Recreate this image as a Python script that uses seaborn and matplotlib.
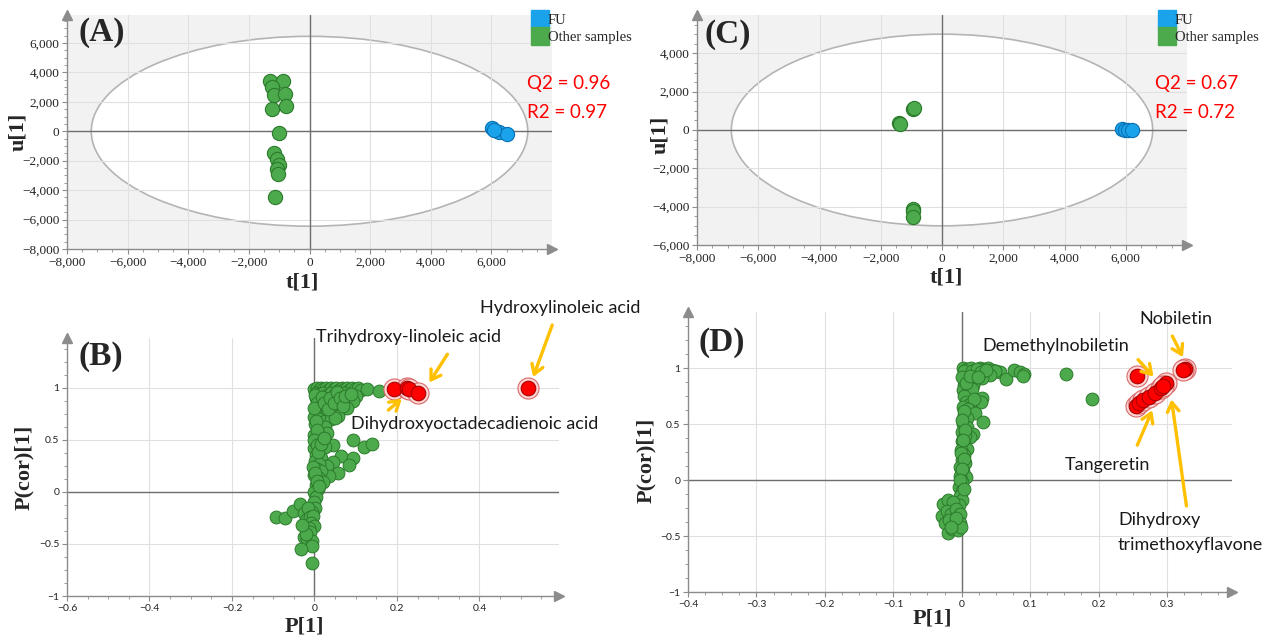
import numpy as np
import pandas as pd
import matplotlib
matplotlib.use('Agg')
import matplotlib.pyplot as plt
import seaborn as sns
from matplotlib.patches import Ellipse
from matplotlib.lines import Line2D
from matplotlib.ticker import AutoMinorLocator, FuncFormatter

# ---- data ----
# (A) OPLS-DA scores, FU vs other samples
a_fu_t = [6010, 6260, 6520, 6100]
a_fu_u = [250, -40, -160, 80]
a_other_t = [-1317, -874, -1237, -1169, -806, -766, -1237, -1008, -1183, -1075, -995, -1075, -1035, -1129]
a_other_u = [3420, 3420, 3000, 2480, 2530, 1750, 1480, -130, -1480, -1880, -2260, -2550, -2930, -4500]
a_q2, a_r2 = 0.96, 0.97
a_ellipse = (7200, 6450)

# (C) OPLS-DA scores
c_fu_t = [5870, 5980, 6070, 6200]
c_fu_u = [70, 20, 0, 0]
c_other_t = [-1400, -1380, -960, -907, -960, -960, -960]
c_other_u = [350, 330, 1080, 1150, -4100, -4230, -4520]
c_q2, c_r2 = 0.67, 0.72
c_ellipse = (6880, 5000)

# (B) S-plot loadings
b_green_x = [0.000, 0.005, 0.010, 0.015, 0.020, 0.027, 0.033, 0.040, 0.047, 0.053, 0.060, 0.066, 0.072, 0.079,
             0.085, 0.092, 0.098, 0.105, 0.113, 0.128, 0.157,
             0.003, 0.012, 0.020, 0.030, 0.040, 0.050, 0.060, 0.072, 0.085, 0.100,
             0.004, 0.015, 0.028, 0.042, 0.055, 0.068, 0.080, 0.093,
             0.006, 0.020, 0.035, 0.050, 0.065, 0.078,
             0.003, 0.015, 0.030, 0.045, 0.058,
             0.000, 0.010, 0.025, 0.040, 0.050,
             0.002, 0.012, 0.025, 0.008,
             0.000, 0.010, 0.020, 0.030, 0.005,
             0.046, 0.094, 0.119, 0.140,
             0.000, 0.012, 0.025, 0.004, 0.015,
             0.064, 0.094, 0.084, 0.044, 0.030, 0.057, 0.035,
             0.002, 0.010, 0.005, 0.015, 0.000, 0.010, 0.020, 0.003, 0.008, 0.000, 0.003, -0.002, 0.002, -0.005,
             -0.093, -0.071, -0.051, -0.035, -0.025, -0.015, -0.020, -0.010, -0.003, -0.008, -0.002, -0.012,
             -0.025, -0.010, -0.018, -0.005, -0.005, -0.033, -0.005, -0.020, -0.030,
             0.001, 0.006, -0.001, 0.004, 0.007, 0.000, 0.005, 0.009, -0.003, 0.002, 0.006, 0.011, 0.016, 0.022,
             0.018, 0.024, 0.033, 0.038, 0.048, 0.055, 0.062, 0.070, 0.075, 0.088]
b_green_y = [0.99, 1.00, 0.98, 1.00, 0.99, 1.00, 0.98, 1.00, 0.99, 1.00, 0.98, 1.00, 0.99, 1.00,
             0.98, 1.00, 0.99, 1.00, 0.98, 0.99, 0.97,
             0.95, 0.94, 0.95, 0.93, 0.95, 0.94, 0.93, 0.95, 0.93, 0.92,
             0.90, 0.88, 0.89, 0.87, 0.88, 0.86, 0.89, 0.87,
             0.84, 0.82, 0.83, 0.81, 0.80, 0.81,
             0.78, 0.76, 0.77, 0.75, 0.73,
             0.72, 0.70, 0.68, 0.70, 0.71,
             0.65, 0.63, 0.62, 0.58,
             0.55, 0.53, 0.56, 0.57, 0.48,
             0.455, 0.50, 0.43, 0.46,
             0.42, 0.40, 0.43, 0.36, 0.33,
             0.35, 0.33, 0.26, 0.29, 0.25, 0.18, 0.15,
             0.30, 0.27, 0.22, 0.20, 0.16, 0.13, 0.10, 0.07, 0.03, 0.00, -0.05, -0.10, -0.15, -0.19,
             -0.24, -0.25, -0.18, -0.12, -0.20, -0.15, -0.27, -0.24, -0.23, -0.30, -0.33, -0.35,
             -0.43, -0.38, -0.45, -0.47, -0.52, -0.55, -0.68, -0.40, -0.32,
             0.93, 0.86, 0.81, 0.68, 0.60, 0.50, 0.45, 0.38, 0.24, 0.18, 0.11, 0.06, 0.46, 0.52,
             0.91, 0.86, 0.80, 0.90, 0.86, 0.96, 0.90, 0.83, 0.92, 0.94]
b_red_x = [0.193, 0.224, 0.230, 0.252, 0.519]
b_red_y = [0.99, 1.00, 0.99, 0.95, 1.00]

# (D) S-plot loadings
d_green_x = [0.002, 0.008, 0.014, 0.020, 0.026, 0.032, 0.038, 0.044, 0.050, 0.056, 0.049, 0.065, 0.076, 0.085,
             0.091, 0.089, 0.152, 0.190,
             0.003, 0.010, 0.018, 0.025, 0.035, 0.042, 0.005, 0.012, 0.020, 0.030,
             0.003, 0.010, 0.016, 0.002, 0.009, 0.015, 0.030, 0.028, 0.003, 0.006, 0.012, 0.018,
             0.002, 0.009, 0.020, 0.031, 0.003, 0.008, 0.002, 0.007, 0.016, 0.012, 0.001, 0.005,
             0.000, 0.004, 0.007, -0.001, 0.003, 0.000, 0.005, -0.002, 0.002, 0.006, -0.003, 0.000,
             -0.004, 0.001, -0.003, 0.000, -0.004,
             -0.027, -0.020, -0.013, -0.029, -0.022, -0.015, -0.008, -0.002, -0.025, -0.018, -0.010,
             -0.003, -0.020, -0.014, -0.006, -0.001, -0.008, -0.016,
             0.004, 0.001, 0.006, 0.003, 0.000, 0.005, 0.002, -0.001, 0.004, 0.001, -0.002, 0.003,
             0.015, 0.022, 0.028, 0.036, 0.012, 0.024]
d_green_y = [1.00, 0.99, 1.00, 0.98, 1.00, 0.99, 1.00, 0.98, 0.97, 0.96, 0.97, 0.90, 0.98, 0.96,
             0.95, 0.93, 0.95, 0.72,
             0.95, 0.94, 0.95, 0.93, 0.95, 0.94, 0.90, 0.88, 0.89, 0.91,
             0.85, 0.83, 0.85, 0.80, 0.78, 0.81, 0.73, 0.70, 0.75, 0.70, 0.68, 0.72,
             0.65, 0.63, 0.60, 0.52, 0.58, 0.55, 0.50, 0.47, 0.41, 0.38, 0.43, 0.40,
             0.35, 0.32, 0.28, 0.27, 0.22, 0.18, 0.15, 0.12, 0.08, 0.03, 0.04, -0.02,
             -0.06, -0.10, -0.14, -0.18, -0.22,
             -0.21, -0.18, -0.20, -0.32, -0.28, -0.30, -0.26, -0.30, -0.38, -0.36, -0.40,
             -0.38, -0.47, -0.44, -0.45, -0.42, -0.34, -0.42,
             0.97, 0.92, 0.87, 0.62, 0.54, 0.45, 0.36, 0.24, 0.19, 0.10, 0.00, -0.08,
             0.97, 0.99, 0.96, 0.98, 0.93, 0.92]
d_red_x = [0.256, 0.255, 0.259, 0.265, 0.273, 0.282, 0.291, 0.298, 0.294, 0.327, 0.324]
d_red_y = [0.93, 0.66, 0.69, 0.71, 0.74, 0.78, 0.82, 0.87, 0.84, 0.99, 0.98]

BLUE, BLUE_E = '#1aa3ea', '#0a70b4'
GREEN, GREEN_E = '#4caa4c', '#2b7a2b'
RED, RED_E = '#ff0000', '#a80000'
ORANGE = '#ffc000'

sns.set_theme(style='white')
plt.rcParams['font.family'] = ['Liberation Serif', 'DejaVu Serif']
SANS = ['Lato', 'DejaVu Sans']

W, H = 1266, 637
fig = plt.figure(figsize=(12.66, 6.37), dpi=100)


def box(l, t, r, b):
    return [l / W, 1 - b / H, (r - l) / W, (b - t) / H]


def fx(px):
    return px / W


def fy(py):
    return 1 - py / H


def thousands(v, pos):
    return '{:,.0f}'.format(v).replace('-', '\u2212')


def plain(v, pos):
    s = '{:g}'.format(round(v, 2))
    return s.replace('-', '\u2212')


def style_axes(ax, xlim, ylim, xticks, yticks, fmt, tickfont, tsize, bg):
    ax.set_xlim(xlim)
    ax.set_ylim(ylim)
    ax.set_facecolor(bg)
    ax.set_xticks(xticks)
    ax.set_yticks(yticks)
    ax.xaxis.set_minor_locator(AutoMinorLocator(4))
    ax.yaxis.set_minor_locator(AutoMinorLocator(4))
    ax.xaxis.set_major_formatter(FuncFormatter(fmt))
    ax.yaxis.set_major_formatter(FuncFormatter(fmt))
    ax.tick_params(which='both', bottom=True, left=True, direction='out', color='#8c8c8c', pad=2)
    ax.tick_params(which='major', length=3.5, width=0.8, labelsize=tsize, labelcolor='#222222')
    ax.tick_params(which='minor', length=2, width=0.6)
    for lab in ax.get_xticklabels() + ax.get_yticklabels():
        lab.set_family(tickfont)
    for s in ['top', 'right']:
        ax.spines[s].set_visible(False)
    for s in ['left', 'bottom']:
        ax.spines[s].set_color('#8c8c8c')
        ax.spines[s].set_linewidth(1.0)
    ax.set_axisbelow(True)
    ax.grid(True, which='major', color='#e0e0e0', lw=0.8)
    ax.axhline(0, color='#6e6e6e', lw=1.0, zorder=1)
    ax.axvline(0, color='#6e6e6e', lw=1.0, zorder=1)
    ax.plot(1, 0, '>', transform=ax.transAxes, clip_on=False, color='#8c8c8c', ms=7)
    ax.plot(0, 1, '^', transform=ax.transAxes, clip_on=False, color='#8c8c8c', ms=7)
    ax.set_xlabel('')
    ax.set_ylabel('')


def scores_panel(ax, fu_t, fu_u, oth_t, oth_u, ell, ylim, yticks):
    ax.add_patch(Ellipse((0, 0), 2 * ell[0], 2 * ell[1], facecolor='white',
                         edgecolor='#b4b4b4', lw=1.2, zorder=0.2))
    fu = pd.DataFrame({'t': fu_t, 'u': fu_u})
    oth = pd.DataFrame({'t': oth_t, 'u': oth_u})
    sns.scatterplot(data=oth, x='t', y='u', ax=ax, color=GREEN, edgecolor=GREEN_E,
                    s=105, linewidth=0.8, zorder=3, legend=False)
    sns.scatterplot(data=fu, x='t', y='u', ax=ax, color=BLUE, edgecolor=BLUE_E,
                    s=105, linewidth=0.8, zorder=3, legend=False)
    style_axes(ax, (-8000, 8000), ylim, np.arange(-8000, 6001, 2000), yticks,
               thousands, ['Liberation Serif'], 9.5, '#f2f2f2')


def splot_panel(ax, gx, gy, rx, ry, xlim, ylim, xticks):
    g = pd.DataFrame({'p': gx, 'pcor': gy})
    r = pd.DataFrame({'p': rx, 'pcor': ry})
    sns.scatterplot(data=g, x='p', y='pcor', ax=ax, color=GREEN, edgecolor=GREEN_E,
                    s=85, linewidth=0.7, zorder=3, legend=False)
    sns.scatterplot(data=r, x='p', y='pcor', ax=ax, color='#ffd6d6', edgecolor='#d86a6a',
                    s=230, linewidth=0.8, zorder=4, legend=False)
    sns.scatterplot(data=r, x='p', y='pcor', ax=ax, color=RED, edgecolor=RED_E,
                    s=110, linewidth=0.8, zorder=5, legend=False)
    style_axes(ax, xlim, ylim, xticks, [-1, -0.5, 0, 0.5, 1],
               plain, SANS, 7.5, 'white')


axA = fig.add_axes(box(67, 15, 552, 249))
axC = fig.add_axes(box(697, 15, 1187, 245))
axB = fig.add_axes(box(67, 338, 559, 596))
axD = fig.add_axes(box(688, 312, 1232, 592))

scores_panel(axA, a_fu_t, a_fu_u, a_other_t, a_other_u, a_ellipse, (-8000, 7900),
             np.arange(-8000, 6001, 2000))
scores_panel(axC, c_fu_t, c_fu_u, c_other_t, c_other_u, c_ellipse, (-6000, 6000),
             np.arange(-6000, 4001, 2000))
splot_panel(axB, b_green_x, b_green_y, b_red_x, b_red_y, (-0.6, 0.593), (-1, 1.48),
            [-0.6, -0.4, -0.2, 0, 0.2, 0.4])
splot_panel(axD, d_green_x, d_green_y, d_red_x, d_red_y, (-0.4, 0.395), (-1, 1.5),
            [-0.4, -0.3, -0.2, -0.1, 0, 0.1, 0.2, 0.3])

# panel letters and axis titles
for lab, px, py in [('(A)', 78, 32), ('(C)', 705, 35), ('(B)', 78, 357), ('(D)', 699, 343)]:
    fig.text(fx(px), fy(py), lab, fontsize=24, fontweight='bold', va='center', ha='left')
for lab, px, py, rot in [('t[1]', 302, 283, 0), ('u[1]', 18, 132, 90),
                         ('t[1]', 946, 277, 0), ('u[1]', 660, 135, 90),
                         ('P[1]', 304, 627, 0), ('P(cor)[1]', 24, 467, 90),
                         ('P[1]', 932, 619, 0), ('P(cor)[1]', 646, 460, 90)]:
    fig.text(fx(px), fy(py), lab, fontsize=16, fontweight='bold', va='center', ha='center',
             rotation=rot)

# legends
handles = [Line2D([], [], marker='s', ls='', ms=13, mfc=BLUE, mec=BLUE, label='FU'),
           Line2D([], [], marker='s', ls='', ms=13, mfc=GREEN, mec=GREEN, label='Other samples')]
for px in (533, 1160):
    fig.legend(handles=handles, loc='upper left', bbox_to_anchor=(fx(px), fy(14)), frameon=False,
               handletextpad=0.1, labelspacing=0.25, handlelength=0.9, borderpad=0,
               borderaxespad=0, fontsize=10.5)

# Q2 / R2
for q, r, px in [(a_q2, a_r2, 527), (c_q2, c_r2, 1155)]:
    fig.text(fx(px), fy(83), 'Q2 = {:.2f}'.format(q), color='red', fontsize=13.5, family=SANS,
             va='center')
    fig.text(fx(px), fy(112), 'R2 = {:.2f}'.format(r), color='red', fontsize=13.5, family=SANS,
             va='center')

# annotations (B)
arrow = dict(arrowstyle='->,head_length=0.55,head_width=0.35', color=ORANGE, lw=2.4)
afont = dict(fontsize=13, family=SANS, color='#1a1a1a')
for start, end in [((0.579, 1.63), (0.528, 1.08)),
                   ((0.326, 1.346), (0.275, 1.03)),
                   ((0.174, 0.77), (0.217, 0.913))]:
    axB.annotate('', xy=end, xytext=start, arrowprops=arrow, annotation_clip=False, zorder=6)
fig.text(fx(560), fy(308), 'Hydroxylinoleic acid', ha='center', va='center', **afont)
fig.text(fx(316), fy(337), 'Trihydroxy-linoleic acid', ha='left', va='center', **afont)
fig.text(fx(351), fy(424), 'Dihydroxyoctadecadienoic acid', ha='left', va='center', **afont)

# annotations (D)
for start, end in [((0.306, 1.307), (0.325, 1.075)),
                   ((0.255, 1.093), (0.283, 0.905)),
                   ((0.255, 0.288), (0.280, 0.645)),
                   ((0.329, -0.256), (0.306, 0.744))]:
    axD.annotate('', xy=end, xytext=start, arrowprops=arrow, annotation_clip=False, zorder=6)
fig.text(fx(1176), fy(319), 'Nobiletin', ha='center', va='center', **afont)
fig.text(fx(1056), fy(346), 'Demethylnobiletin', ha='center', va='center', **afont)
fig.text(fx(1107), fy(465), 'Tangeretin', ha='center', va='center', **afont)
fig.text(fx(1118), fy(520), 'Dihydroxy', ha='left', va='center', **afont)
fig.text(fx(1118), fy(545), 'trimethoxyflavone', ha='left', va='center', **afont)

fig.savefig('out.png', dpi=100, facecolor='white')
